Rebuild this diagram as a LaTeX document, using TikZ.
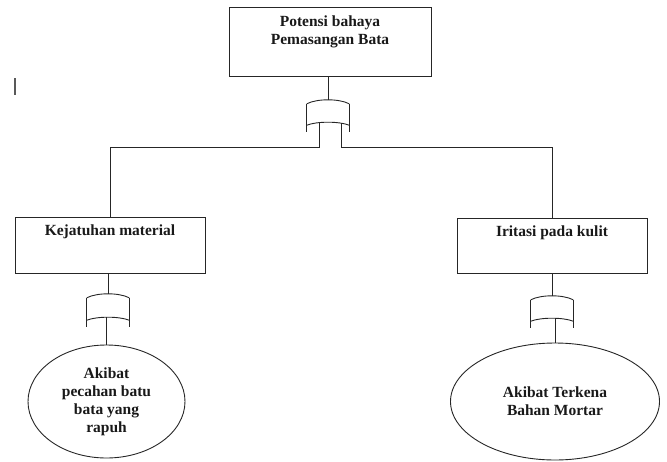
\documentclass[tikz,border=0pt]{standalone}
\usepackage{fontspec}
\setmainfont{Liberation Serif}
\usetikzlibrary{shapes.geometric,calc}
\begin{document}
\begin{tikzpicture}[x=1pt,y=-1pt,
  ln/.style={line width=0.9pt, draw=black!85},
  txt/.style={font=\fontsize{15.5}{18}\selectfont\bfseries, align=center, inner sep=0pt, text=black!90},
  box/.style={ln, rectangle, inner sep=0pt},
  gate/.style={minimum width=42pt, inner sep=0pt},
  oval/.style={ln, ellipse, inner sep=0pt, txt}
]
\useasboundingbox (0,0) rectangle (667,461);

% boxes
\node[box, minimum width=202pt, minimum height=69pt,
  label={[txt, anchor=north, yshift=-9pt, name=toplbl]north:Potensi bahaya\\Pemasangan Bata}] (top) at (330,41.5) {};
\node[box, minimum width=190pt, minimum height=56pt,
  label={[txt, anchor=north, yshift=-8pt, name=k1lbl]north:Kejatuhan material}] (k1) at (110,245) {};
\node[box, minimum width=190pt, minimum height=55pt,
  label={[txt, anchor=north, yshift=-7.5pt, name=k2lbl]north:Iritasi pada kulit}] (k2) at (552,245.5) {};

% gates
\node[gate, minimum height=32pt] (g0) at (328,116) {};
\node[gate, minimum height=33pt] (g1) at (108,310.5) {};
\node[gate, minimum height=32pt] (g2) at (552,312) {};

% ellipses
\node[oval, minimum width=157pt, minimum height=113pt] (e1) at (106.5,401.5) {Akibat\\pecahan batu\\bata yang\\rapuh};
\node[oval, minimum width=209pt, minimum height=117pt] (e2) at (555,401.5) {Akibat Terkena\\Bahan Mortar};

% gate shapes
\foreach \g in {g0,g1,g2}{
  \draw[ln] ($(\g.north west)+(0,4)$) -- (\g.south west);
  \draw[ln] ($(\g.north east)+(0,4)$) -- (\g.south east);
  \draw[ln] ($(\g.north west)+(0,4)$) .. controls +(10,-5.33) and +(-10,-5.33) .. ($(\g.north east)+(0,4)$);
  \draw[ln] ($(\g.south west)+(0,-7)$) .. controls +(10,-4) and +(-10,-4) .. ($(\g.south east)+(0,-7)$);
}

% connectors
\draw[ln] (g0.north |- top.south) -- (g0.north);
\coordinate (l0) at ($(g0.south)+(-9,-9)$);
\coordinate (r0) at ($(g0.south)+(13,-9)$);
\coordinate (jl) at ($(g0.south)+(-9,15)$);
\coordinate (jr) at ($(g0.south)+(13,15)$);
\draw[ln] (l0) -- (jl) -| (k1.north);
\draw[ln] (r0) -- (jr) -| (k2.north);

\draw[ln] (k1.south -| g1.north) -- (g1.north);
\draw[ln] (k2.south -| g2.north) -- (g2.north);

\coordinate (s1) at ($(g1.south)+(0,-10)$);
\coordinate (s2) at ($(g2.south)+(0,-10)$);
\draw[ln] (e1.north) -- (e1.north |- s1);
\draw[ln] (e2.north) -- (e2.north |- s2);

% stray cursor mark
\draw[line width=1.6pt, black!65] (15,78) -- (15,95);
\end{tikzpicture}
\end{document}
